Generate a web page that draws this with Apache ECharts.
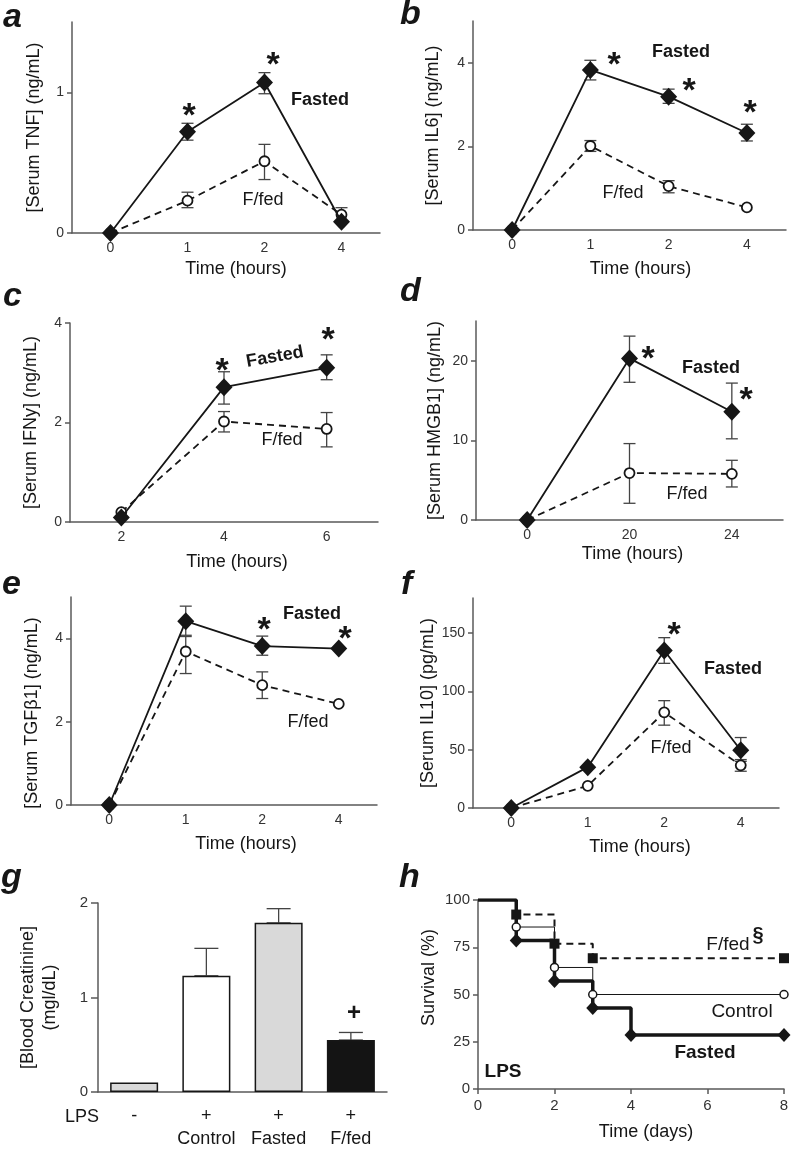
<!DOCTYPE html>
<html>
<head>
<meta charset="utf-8">
<title>Fasting and LPS responses</title>
<script src="https://cdn.jsdelivr.net/npm/echarts@6.0.0/dist/echarts.min.js"></script>
<style>
  html, body { margin: 0; padding: 0; background: #fff; }
  #chart { width: 792px; height: 1149px; }
</style>
</head>
<body>
<div id="chart"></div>
<script>
// ---------- data ----------
const hourCats = ['0', '1', '2', '4'];

// a: TNF (ng/mL)
const tnfFasted = [0, 0.72, 1.07, 0.08];
const tnfFastedErr = [null, [0.66, 0.78], [0.99, 1.14], null];
const tnfFed = [0, 0.23, 0.51, 0.13];
const tnfFedErr = [null, [0.18, 0.29], [0.38, 0.63], [0.08, 0.18]];
const tnfTicks = [0, 1];

// b: IL6 (ng/mL)
const il6Fasted = [0, 3.83, 3.19, 2.32];
const il6FastedErr = [null, [3.59, 4.06], [3.03, 3.37], [2.13, 2.53]];
const il6Fed = [0, 2.01, 1.05, 0.54];
const il6FedErr = [null, [1.88, 2.14], [0.89, 1.18], null];
const il6Ticks = [0, 2, 4];

// c: IFNy (ng/mL)
const ifnCats = ['2', '4', '6'];
const ifnFasted = [0.09, 2.71, 3.10];
const ifnFastedErr = [null, [2.37, 3.02], [2.86, 3.36]];
const ifnFed = [0.2, 2.02, 1.87];
const ifnFedErr = [null, [1.81, 2.22], [1.51, 2.2]];
const ifnTicks = [0, 2, 4];

// d: HMGB1 (ng/mL)
const hmgCats = ['0', '20', '24'];
const hmgFasted = [0, 20.3, 13.6];
const hmgFastedErr = [null, [17.3, 23.1], [10.2, 17.2]];
const hmgFed = [0, 5.9, 5.8];
const hmgFedErr = [null, [2.1, 9.6], [4.15, 7.5]];
const hmgTicks = [0, 10, 20];

// e: TGFb1 (ng/mL)
const tgfFasted = [0, 4.42, 3.82, 3.76];
const tgfFastedErr = [null, [4.08, 4.78], [3.6, 4.06], null];
const tgfFed = [0, 3.69, 2.88, 2.43];
const tgfFedErr = [null, [3.16, 4.05], [2.56, 3.2], null];
const tgfTicks = [0, 2, 4];

// f: IL10 (pg/mL)
const il10Fasted = [0, 35, 135, 49.5];
const il10FastedErr = [null, null, [124, 146], [40, 60.4]];
const il10Fed = [0, 19, 82, 36.6];
const il10FedErr = [null, null, [71, 92], [31.5, 41.5]];
const il10Ticks = [0, 50, 100, 150];

// g: blood creatinine
const lpsSigns = ['-', '+', '+', '+'];
const creatGroups = ['', 'Control', 'Fasted', 'F/fed'];
const creatValues = [0.1, 1.23, 1.79, 0.55];
const creatUpper = [null, 1.52, 1.94, 0.63];
const creatTicks = [0, 1, 2];

// h: survival (%), [day, survival]
const survFasted = [[0, 100], [1, 78.6], [2, 57.1], [3, 42.9], [4, 28.6], [8, 28.6]];
const survControl = [[0, 100], [1, 85.7], [2, 64.3], [3, 50], [8, 50]];
const survFed = [[0, 100], [1, 92.3], [2, 76.9], [3, 69.2], [8, 69.2]];
const survTicks = [0, 25, 50, 75, 100];
const dayTicks = [0, 2, 4, 6, 8];

// ---------- look ----------
const FONT = '"Liberation Sans", Arial, sans-serif';
const INK = '#161616';
const AXIS = '#5a5a5a';
const ERR = '#444';

const grids = [
  { left: 72, top: 22, width: 308, height: 211 },
  { left: 473, top: 21, width: 313, height: 209 },
  { left: 70, top: 323, width: 308, height: 199 },
  { left: 476, top: 321, width: 307, height: 199 },
  { left: 71, top: 597, width: 306, height: 208 },
  { left: 473, top: 598, width: 306, height: 210 },
  { left: 98, top: 903, width: 289, height: 189 },
  { left: 478, top: 900, width: 306, height: 189 }
].map(g => Object.assign({ outerBoundsMode: 'none' }, g));

function catAxis(i, cats, name, gap, shift) {
  return {
    type: 'category', gridIndex: i, data: cats, boundaryGap: true,
    name: name, nameLocation: 'middle', nameGap: gap,
    nameTextStyle: { fontFamily: FONT, fontSize: 18, color: INK, padding: [0, 0, 0, shift * 2] },
    axisLine: { lineStyle: { color: AXIS, width: 1.5 } },
    axisTick: { alignWithLabel: true, interval: 0, length: 5, lineStyle: { color: AXIS, width: 1.5 } },
    axisLabel: { fontFamily: FONT, fontSize: 14, color: '#333', margin: 8, interval: 0 }
  };
}

function valAxis(i, max, ticks, name, gap, opts) {
  opts = opts || {};
  const pad = opts.pad || [0, 0, 0, 0];
  return {
    type: 'value', gridIndex: i, min: 0, max: max,
    name: name, nameLocation: 'middle', nameGap: gap,
    nameTextStyle: { fontFamily: FONT, fontSize: 18, color: INK, lineHeight: opts.lineHeight || 20, padding: pad },
    splitLine: { show: false },
    axisLine: { show: true, lineStyle: { color: AXIS, width: 1.5 } },
    axisTick: { show: true, length: opts.tickLen || 5, customValues: ticks, lineStyle: { color: AXIS, width: 1.5 } },
    axisLabel: { fontFamily: FONT, fontSize: opts.fontSize || 14, color: '#333', margin: opts.margin || 8, customValues: ticks }
  };
}

function errSeries(i, errs, half) {
  return {
    type: 'custom', xAxisIndex: i, yAxisIndex: i, z: 1, silent: true,
    data: errs.map((e, k) => e ? [k, e[0], e[1]] : null).filter(Boolean),
    renderItem: function (params, api) {
      const hi = api.coord([api.value(0), api.value(2)]);
      const lo = api.coord([api.value(0), api.value(1)]);
      const w = half || 6;
      const style = { stroke: ERR, lineWidth: 1.3 };
      return {
        type: 'group', children: [
          { type: 'line', shape: { x1: hi[0], y1: hi[1], x2: lo[0], y2: lo[1] }, style: style },
          { type: 'line', shape: { x1: hi[0] - w, y1: hi[1], x2: hi[0] + w, y2: hi[1] }, style: style },
          { type: 'line', shape: { x1: lo[0] - w, y1: lo[1], x2: lo[0] + w, y2: lo[1] }, style: style }
        ]
      };
    }
  };
}

function panelSeries(i, fed, fedErr, fasted, fastedErr) {
  return [
    errSeries(i, fedErr),
    errSeries(i, fastedErr),
    {
      type: 'line', xAxisIndex: i, yAxisIndex: i, data: fed, z: 3,
      symbol: 'circle', symbolSize: 10, showAllSymbol: true,
      lineStyle: { color: INK, width: 1.8, type: [7, 5] },
      itemStyle: { color: '#fff', borderColor: INK, borderWidth: 1.8 }
    },
    {
      type: 'line', xAxisIndex: i, yAxisIndex: i, data: fasted, z: 4,
      symbol: 'diamond', symbolSize: [17, 18], showAllSymbol: true,
      lineStyle: { color: INK, width: 1.8 },
      itemStyle: { color: INK }
    }
  ];
}

function stepData(arr) {
  return arr.map((p, k) => k === 0 ? { value: p, symbol: 'none' } : p);
}

// annotations
function txt(s, x, y, opt) {
  opt = opt || {};
  return {
    type: 'text', x: x, y: y, rotation: opt.rot || 0, z: 100,
    style: {
      text: s, fill: INK, align: opt.align || 'center', verticalAlign: 'middle',
      font: (opt.bold ? 'bold ' : '') + (opt.italic ? 'italic ' : '') + (opt.size || 18) + 'px ' + FONT
    }
  };
}
function star(x, y) { return txt('*', x, y + 8.5, { bold: true, size: 34 }); }
function letter(s, x, y) { return txt(s, x, y, { bold: true, italic: true, size: 34, align: 'left' }); }

const graphics = [
  letter('a', 3, 17.5), letter('b', 400, 14.5), letter('c', 3, 296.5), letter('d', 400, 291.5),
  letter('e', 2, 584.5), letter('f', 401, 584.5), letter('g', 1, 877.5), letter('h', 399, 877.5),
  // a
  star(189, 108), star(273, 57),
  txt('Fasted', 320, 100, { bold: true }), txt('F/fed', 263, 200),
  // b
  star(614, 57), star(689, 83), star(750, 105),
  txt('Fasted', 681, 52, { bold: true }), txt('F/fed', 623, 193),
  // c
  star(222, 363), star(328, 332),
  txt('Fasted', 275, 357, { bold: true, rot: 0.18 }), txt('F/fed', 282, 440),
  // d
  star(648, 351), star(746, 392),
  txt('Fasted', 711, 368, { bold: true }), txt('F/fed', 687, 494),
  // e
  star(264, 622), star(345, 631),
  txt('Fasted', 312, 614, { bold: true }), txt('F/fed', 308, 722),
  // f
  star(674, 627),
  txt('Fasted', 733, 669, { bold: true }), txt('F/fed', 671, 748),
  // g
  txt('+', 354, 1013, { bold: true, size: 24 }), txt('LPS', 82, 1117),
  // h
  txt('F/fed', 728, 945, { size: 19 }), txt('§', 758, 935, { bold: true, size: 20 }),
  txt('Control', 742, 1012, { size: 19 }),
  txt('Fasted', 705, 1053, { bold: true, size: 19 }),
  txt('LPS', 503, 1072, { bold: true, size: 19 })
];

const chart = echarts.init(document.getElementById('chart'), null, { renderer: 'canvas' });

const creatCats = lpsSigns.map((s, k) => s + '\n' + (creatGroups[k] || ' ') + '\u200b'.repeat(k));

const option = {
  animation: false,
  backgroundColor: '#fff',
  textStyle: { fontFamily: FONT },
  grid: grids,
  xAxis: [
    catAxis(0, hourCats, 'Time (hours)', 27, 10),
    catAxis(1, hourCats, 'Time (hours)', 30, 11),
    catAxis(2, ifnCats, 'Time (hours)', 31, 13),
    catAxis(3, hmgCats, 'Time (hours)', 25, 3),
    catAxis(4, hourCats, 'Time (hours)', 30, 22),
    catAxis(5, hourCats, 'Time (hours)', 30, 14),
    Object.assign(catAxis(6, creatCats, '', 0, 0), {
      axisLabel: {
        fontFamily: FONT, fontSize: 18, color: INK, lineHeight: 23, margin: 13, interval: 0,
        formatter: function (v) { return v.replace(/\u200b/g, ''); }
      }
    }),
    {
      type: 'value', gridIndex: 7, min: 0, max: 8, interval: 2,
      name: 'Time (days)', nameLocation: 'middle', nameGap: 34,
      nameTextStyle: { fontFamily: FONT, fontSize: 18, color: INK, padding: [0, 0, 0, 30] },
      splitLine: { show: false },
      axisLine: { lineStyle: { color: AXIS, width: 1.5 } },
      axisTick: { length: 5, customValues: dayTicks, lineStyle: { color: AXIS, width: 1.5 } },
      axisLabel: { fontFamily: FONT, fontSize: 15, color: '#333', margin: 9, customValues: dayTicks }
    }
  ],
  yAxis: [
    valAxis(0, 1.5, tnfTicks, '[Serum TNF] (ng/mL)', 28),
    valAxis(1, 5, il6Ticks, '[Serum IL6] (ng/mL)', 30),
    valAxis(2, 4, ifnTicks, '[Serum IFNy] (ng/mL)', 29),
    valAxis(3, 25, hmgTicks, '[Serum HMGB1] (ng/mL)', 31),
    valAxis(4, 5, tgfTicks, '[Serum TGFβ1] (ng/mL)', 29, { pad: [0, 24, 0, 0] }),
    valAxis(5, 180, il10Ticks, '[Serum IL10] (pg/mL)', 35),
    valAxis(6, 2, creatTicks, '[Blood Creatinine]\n(mgl/dL)', 37, { fontSize: 15, margin: 10, tickLen: 7, lineHeight: 22 }),
    valAxis(7, 100, survTicks, 'Survival (%)', 39, { fontSize: 15, pad: [0, 0, 0, 34] })
  ],
  series: [].concat(
    panelSeries(0, tnfFed, tnfFedErr, tnfFasted, tnfFastedErr),
    panelSeries(1, il6Fed, il6FedErr, il6Fasted, il6FastedErr),
    panelSeries(2, ifnFed, ifnFedErr, ifnFasted, ifnFastedErr),
    panelSeries(3, hmgFed, hmgFedErr, hmgFasted, hmgFastedErr),
    panelSeries(4, tgfFed, tgfFedErr, tgfFasted, tgfFastedErr),
    panelSeries(5, il10Fed, il10FedErr, il10Fasted, il10FastedErr),
    [
      {
        type: 'bar', xAxisIndex: 6, yAxisIndex: 6, barWidth: 48, z: 2,
        data: creatValues,
        itemStyle: {
          borderColor: INK, borderWidth: 1.5,
          color: function (p) { return ['#d9d9d9', '#ffffff', '#d9d9d9', '#141414'][p.dataIndex]; }
        }
      },
      errSeries(6, creatUpper.map((u, k) => u == null ? null : [creatValues[k], u]), 12),
      {
        type: 'line', xAxisIndex: 7, yAxisIndex: 7, step: 'end', data: stepData(survFasted), z: 3,
        symbol: 'diamond', symbolSize: [13, 14], showAllSymbol: true,
        lineStyle: { color: INK, width: 3.5 }, itemStyle: { color: INK }
      },
      {
        type: 'line', xAxisIndex: 7, yAxisIndex: 7, step: 'end', data: stepData(survControl), z: 4,
        symbol: 'circle', symbolSize: 8, showAllSymbol: true,
        lineStyle: { color: INK, width: 1 },
        itemStyle: { color: '#fff', borderColor: INK, borderWidth: 1.5 }
      },
      {
        type: 'line', xAxisIndex: 7, yAxisIndex: 7, step: 'end', data: stepData(survFed), z: 5,
        symbol: 'rect', symbolSize: 10, showAllSymbol: true,
        lineStyle: { color: INK, width: 2, type: [7, 5] }, itemStyle: { color: INK }
      }
    ]
  ),
  graphic: graphics
};

chart.setOption(option);
</script>
</body>
</html>
